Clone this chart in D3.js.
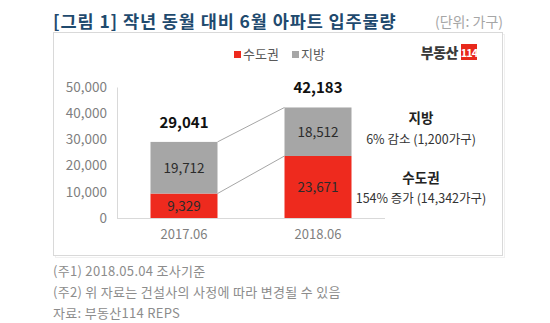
<!DOCTYPE html>
<html><head><meta charset="utf-8">
<script src="https://cdn.jsdelivr.net/npm/d3@7/dist/d3.min.js"></script>
<style>
html,body{margin:0;padding:0;background:#fff;}
svg{display:block;font-family:"Noto Sans CJK KR","Noto Sans",sans-serif;}
</style></head>
<body>
<script>
const categories = ["2017.06", "2018.06"];
const seriesNames = ["수도권", "지방"];
const capital = [9329, 23671];
const provinces = [19712, 18512];
const totals = [29041, 42183];
const yTicks = [0, 10000, 20000, 30000, 40000, 50000];
const title = "[그림 1] 작년 동월 대비 6월 아파트 입주물량";
const unit = "(단위: 가구)";
const notes = ["(주1) 2018.05.04 조사기준", "(주2) 위 자료는 건설사의 사정에 따라 변경될 수 있음", "자료: 부동산114 REPS"];
const annotations = [
  {head: "지방", text: "6% 감소 (1,200가구)"},
  {head: "수도권", text: "154% 증가 (14,342가구)"}
];
const colors = {"수도권": "#ee2a1e", "지방": "#a6a6a6"};

const W = 550, H = 323;
const svg = d3.select("body").append("svg").attr("width", W).attr("height", H);

// title
svg.append("text").attr("x", 53).attr("y", 28).attr("font-size", 17.5).attr("font-weight", "bold")
  .attr("letter-spacing", 0.9).attr("fill", "#1f4a6e").text(title);
svg.append("text").attr("x", 503).attr("y", 27).attr("text-anchor", "end").attr("font-size", 14)
  .attr("fill", "#a6a6a6").text(unit);

// frame (with faint shadow)
svg.append("rect").attr("x", 55.5).attr("y", 34.5).attr("width", 449).attr("height", 223)
  .attr("fill", "none").attr("stroke", "#f0f0f0");
svg.append("rect").attr("x", 53.5).attr("y", 32.5).attr("width", 449).attr("height", 223)
  .attr("fill", "#fff").attr("stroke", "#d9d9d9");

// logo
const logo = svg.append("g");
logo.append("text").attr("x", 458).attr("y", 58).attr("text-anchor", "end").attr("font-size", 14)
  .attr("font-weight", "900").attr("fill", "#3a3a3a").attr("letter-spacing", -0.5).text("부동산");
logo.append("rect").attr("x", 461).attr("y", 44).attr("width", 16).attr("height", 16).attr("fill", "#e8291c");
logo.append("text").attr("x", 469).attr("y", 57).attr("text-anchor", "middle").attr("font-size", 11)
  .attr("font-weight", "bold").attr("fill", "#fff").attr("letter-spacing", -1).text("114");

// legend
const legend = svg.append("g");
const legX = [234, 292];
seriesNames.forEach((n, i) => {
  legend.append("rect").attr("x", legX[i]).attr("y", 51).attr("width", 7).attr("height", 7).attr("fill", colors[n]);
  legend.append("text").attr("x", legX[i] + 9).attr("y", 59).attr("font-size", 13).attr("fill", "#595959").text(n);
});

// scales
const x = d3.scaleBand().domain(categories).range([117, 385]).paddingInner(0.5).paddingOuter(0.25);
const y = d3.scaleLinear().domain([0, 50000]).range([218, 87]);

// y axis
const yAxis = svg.append("g").attr("transform", "translate(117,0)")
  .call(d3.axisLeft(y).tickValues(yTicks).tickSize(0).tickPadding(10).tickFormat(d3.format(",")));
yAxis.select(".domain").attr("stroke", "#d9d9d9");
yAxis.selectAll("text").attr("font-size", 13.5).attr("fill", "#7f7f7f").attr("font-family", "'Noto Sans CJK KR'");

// x axis baseline + labels
const xAxis = svg.append("g").attr("transform", "translate(0,218)")
  .call(d3.axisBottom(x).tickSize(0).tickPadding(12));
xAxis.select(".domain").attr("stroke", "#d9d9d9").attr("d", "M117,0.5H385");
xAxis.selectAll("text").attr("font-size", 13).attr("fill", "#7f7f7f").attr("font-family", "'Noto Sans CJK KR'");

// connectors
const bw = x.bandwidth();
const c0 = categories[0], c1 = categories[1];
svg.append("line").attr("x1", x(c0) + bw).attr("y1", y(totals[0])).attr("x2", x(c1)).attr("y2", y(totals[1]))
  .attr("stroke", "#a6a6a6");
svg.append("line").attr("x1", x(c0) + bw).attr("y1", y(capital[0])).attr("x2", x(c1)).attr("y2", y(capital[1]))
  .attr("stroke", "#a6a6a6");

// bars
const stackData = categories.map((c, i) => ({cat: c, "수도권": capital[i], "지방": provinces[i]}));
const stack = d3.stack().keys(seriesNames)(stackData);
stack.forEach(layer => {
  svg.append("g").selectAll("rect").data(layer).join("rect")
    .attr("x", d => x(d.data.cat)).attr("width", bw)
    .attr("y", d => y(d[1])).attr("height", d => y(d[0]) - y(d[1]))
    .attr("fill", colors[layer.key]);
  svg.append("g").selectAll("text").data(layer).join("text")
    .attr("x", d => x(d.data.cat) + bw / 2).attr("y", d => y((d[0] + d[1]) / 2) + 5)
    .attr("text-anchor", "middle").attr("font-size", 13.5).attr("fill", "#2b2b2b")
    .text(d => d3.format(",")(d.data[layer.key]));
});

// totals
svg.append("g").selectAll("text").data(categories).join("text")
  .attr("x", d => x(d) + bw / 2).attr("y", (d, i) => y(totals[i]) - 14)
  .attr("text-anchor", "middle").attr("font-size", 15).attr("font-weight", "bold").attr("fill", "#111")
  .text((d, i) => d3.format(",")(totals[i]));

// annotations
const annY = [[123, 144], [183, 203]];
annotations.forEach((a, i) => {
  svg.append("text").attr("x", 421).attr("y", annY[i][0]).attr("text-anchor", "middle").attr("font-size", 13.5)
    .attr("font-weight", "bold").attr("fill", "#222").text(a.head);
  svg.append("text").attr("x", 421).attr("y", annY[i][1]).attr("text-anchor", "middle").attr("font-size", 12.5)
    .attr("fill", "#333").text(a.text);
});

// notes
notes.forEach((n, i) => {
  svg.append("text").attr("x", 53).attr("y", 276 + i * 21).attr("font-size", 13).attr("letter-spacing", 0.3)
    .attr("fill", "#8c8c8c").text(n);
});
</script>
</body></html>
